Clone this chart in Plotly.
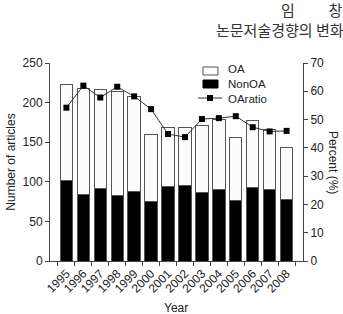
import plotly.graph_objects as go

years = [str(y) for y in range(1995, 2009)]
non_oa = [102, 84, 92, 83, 88, 75, 94, 95, 86, 90, 77, 93, 90, 78]
oa = [121, 134, 124, 131, 120, 85, 75, 73, 85, 89, 79, 84, 76, 65]
oa_ratio = [54.2, 62.0, 57.8, 61.6, 58.2, 53.7, 44.9, 43.8, 50.2, 50.5, 51.2, 47.3, 45.8, 46.0]
legend_labels = ["OA", "NonOA", "OAratio"]

font = "Liberation Sans, Arial, sans-serif"
axcol = "#444444"
edge = "#555555"

# plot area in pixels (for converting layout positions to paper coords)
L, R, T, B = 50, 40, 63, 53
W, H = 343, 314
PW, PH = W - L - R, H - T - B


def px(x):
    return (x - L) / PW


def py(y):
    return (H - B - y) / PH


fig = go.Figure()
fig.add_trace(go.Bar(x=years, y=non_oa, name="NonOA", marker=dict(color="black", line=dict(color=edge, width=1))))
fig.add_trace(go.Bar(x=years, y=oa, name="OA", marker=dict(color="#fcfcfc", line=dict(color=edge, width=1))))
fig.add_trace(go.Scatter(x=years, y=oa_ratio, name="OAratio", yaxis="y2", mode="lines+markers",
                         line=dict(color="#333333", width=1),
                         marker=dict(symbol="square", size=6, color="black")))

fig.update_layout(
    width=W, height=H,
    margin=dict(l=L, r=R, t=T, b=B, autoexpand=False),
    paper_bgcolor="white", plot_bgcolor="white",
    barmode="stack", bargap=0.27,
    font=dict(family=font, size=11, color="#222222"),
    showlegend=False,
    xaxis=dict(type="category", tickangle=-45, showline=True, linecolor=axcol, linewidth=1,
               ticks="outside", ticklen=4, tickcolor=axcol, tickson="boundaries",
               tickfont=dict(size=12), showgrid=False, zeroline=False, automargin=False),
    yaxis=dict(range=[0, 250], dtick=50, showline=True, linecolor=axcol, linewidth=1,
               ticks="outside", ticklen=4, tickcolor=axcol, showgrid=False, zeroline=False,
               tickfont=dict(size=12), automargin=False,
               title=dict(text="Number of articles", font=dict(size=12), standoff=4)),
    yaxis2=dict(range=[0, 70], dtick=10, overlaying="y", side="right", showline=True,
                linecolor=axcol, linewidth=1, ticks="outside", ticklen=4, tickcolor=axcol,
                showgrid=False, zeroline=False, tickfont=dict(size=12), automargin=False),
)

# legend (drawn in paper coordinates)
fig.add_shape(type="rect", xref="paper", yref="paper", x0=px(203), x1=px(218), y0=py(75), y1=py(67),
              line=dict(color=edge, width=1), fillcolor="#fcfcfc")
fig.add_shape(type="rect", xref="paper", yref="paper", x0=px(203), x1=px(218), y0=py(88), y1=py(80),
              line=dict(color="black", width=1), fillcolor="black")
fig.add_shape(type="line", xref="paper", yref="paper", x0=px(198), x1=px(222), y0=py(98), y1=py(98),
              line=dict(color="#333333", width=1))
fig.add_shape(type="rect", xref="paper", yref="paper", x0=px(207), x1=px(213), y0=py(101), y1=py(95),
              line=dict(color="black", width=0), fillcolor="black")
fig.add_annotation(text="<br>".join(legend_labels), xref="paper", yref="paper", x=px(226), y=py(84),
                   xanchor="left", yanchor="middle", align="left", showarrow=False, font=dict(size=11.5))

fig.add_annotation(text="Year", xref="paper", yref="paper", x=px(176), y=py(308),
                   xanchor="center", yanchor="middle", showarrow=False, font=dict(size=12))
fig.add_annotation(text="Percent (%)", textangle=90, xref="paper", yref="paper", x=px(333), y=0.5,
                   xanchor="center", yanchor="middle", showarrow=False, font=dict(size=12))
fig.add_annotation(text="임" + "&nbsp;" * 10 + "창", xref="paper", yref="paper", x=px(279), y=py(10),
                   xanchor="left", yanchor="middle", showarrow=False,
                   font=dict(family="Noto Sans CJK KR", size=15, color="#333333"))
fig.add_annotation(text="논문저술경향의 변화", xref="paper", yref="paper", x=px(214), y=py(30),
                   xanchor="left", yanchor="middle", showarrow=False,
                   font=dict(family="Noto Sans CJK KR", size=15, color="#333333"))

fig.write_html("out.html")
